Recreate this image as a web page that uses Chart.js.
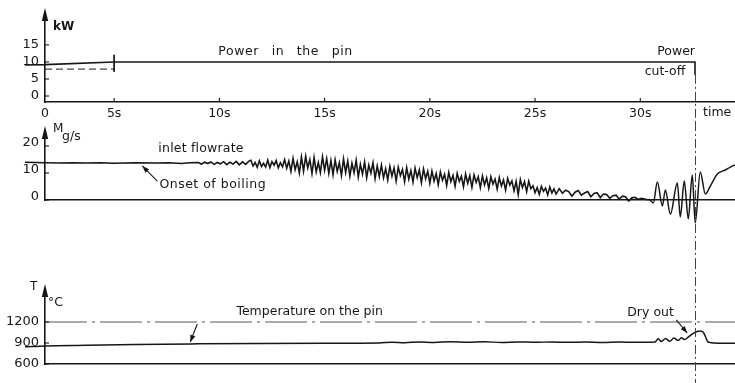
<!DOCTYPE html>
<html><head><meta charset="utf-8">
<script src="https://cdn.jsdelivr.net/npm/chart.js@4/dist/chart.umd.min.js"></script>
<style>
html,body{margin:0;padding:0;background:#fff;width:735px;height:383px;overflow:hidden;position:relative;}
canvas{position:absolute;left:0;}
</style></head><body>
<canvas id="cPow" width="735" height="122" style="top:0px"></canvas>
<canvas id="cFlow" width="735" height="138" style="top:122px"></canvas>
<canvas id="cTemp" width="735" height="123" style="top:260px"></canvas>
<script>
// ---------------- data ----------------
const timeTicks  = [0, 5, 10, 15, 20, 25, 30];
const powerTicks = [0, 5, 10, 15];
const flowTicks  = [0, 10, 20];
const tempTicks  = [600, 900, 1200];
const cutoffTime = 32.6;

const powerTime = [-1.45, 0, 5, 32.6, 32.6];
const powerKW   = [9.1, 9.2, 10.0, 10.0, 6.2];
const nominalTime = [0, 5];
const nominalKW   = [7.9, 7.9];
const markTime = [5, 5];
const markKW   = [12.1, 7.1];

const flowTime = [
 -1.45, 0, 1, 2, 3, 4, 5, 6, 7, 7.6, 8.2, 8.6,
 9.00, 9.15, 9.30, 9.45, 9.60, 9.75, 9.90, 10.05, 10.20, 10.35, 10.50, 10.65, 10.80, 10.95, 11.10, 11.25, 11.40,
 11.5, 11.6, 11.7, 11.8, 11.9, 12.0, 12.1, 12.2, 12.3, 12.4, 12.5, 12.6, 12.7, 12.8, 12.9, 13.0, 13.1, 13.2, 13.3,
 13.4, 13.5, 13.6, 13.7, 13.8, 13.9, 14.0, 14.1, 14.2, 14.3, 14.4, 14.5, 14.6, 14.7, 14.8, 14.9, 15.0, 15.1, 15.2, 15.3,
 15.4, 15.5, 15.6, 15.7, 15.8, 15.9, 16.0, 16.1, 16.2, 16.3, 16.4, 16.5, 16.6, 16.7, 16.8, 16.9, 17.0, 17.1, 17.2, 17.3, 17.4, 17.5, 17.6,
 17.7, 17.8, 17.9, 18.0, 18.1, 18.2, 18.3, 18.4, 18.5, 18.6, 18.7, 18.8, 18.9, 19.0, 19.1, 19.2, 19.3, 19.4, 19.5, 19.6, 19.7, 19.8, 19.9, 20.0,
 20.1, 20.2, 20.3, 20.4, 20.5, 20.6, 20.7, 20.8, 20.9, 21.0, 21.1, 21.2, 21.3, 21.4, 21.5, 21.6, 21.7, 21.8, 21.9, 22.0, 22.1, 22.2, 22.3, 22.4,
 22.5, 22.6, 22.7, 22.8, 22.9, 23.0, 23.1, 23.2, 23.3, 23.4, 23.5, 23.6, 23.7, 23.8, 23.9, 24.0, 24.1, 24.2, 24.3, 24.4, 24.5, 24.6, 24.7, 24.8,
 24.9, 25.0, 25.1, 25.2, 25.3, 25.4, 25.5, 25.6, 25.7, 25.8, 25.9, 26.0,
 26.15, 26.30, 26.45, 26.60, 26.75, 26.90, 27.05, 27.20, 27.35, 27.50, 27.65, 27.80, 27.95, 28.10, 28.25,
 28.40, 28.55, 28.70, 28.85, 29.00, 29.15, 29.30, 29.45, 29.60, 29.75, 29.90, 30.05, 30.20, 30.35, 30.45,
 30.62, 30.81, 31.05, 31.19, 31.43, 31.76, 31.90, 32.09, 32.28, 32.47, 32.61, 32.85,
 33.09, 33.33, 33.66, 34.04, 34.28, 34.50
];
const flowRate = [
 14.0, 13.8, 13.7, 13.8, 13.7, 13.8, 13.6, 13.8, 13.7, 13.8, 13.5, 13.8,
 13.9, 13.3, 14.0, 13.5, 14.1, 13.2, 13.9, 13.4, 14.2, 13.1, 14.0, 13.3, 14.3, 13.0, 14.1, 13.2, 14.4,
 14.7, 12.6, 13.9, 12.1, 14.5, 12.4, 13.6, 12.2, 14.8, 12.0, 14.2, 12.9, 14.6, 11.9, 13.8, 12.3, 15.0, 11.8, 14.4,
 10.6, 15.4, 11.2, 14.1, 10.0, 15.9, 10.7, 16.2, 11.9, 15.0, 9.8, 15.7, 10.4, 13.9, 10.2, 16.0, 11.0, 15.3, 9.9, 14.6,
 9.4, 14.9, 10.6, 13.8, 9.1, 15.2, 10.2, 14.4, 8.8, 13.6, 10.1, 14.7, 8.5, 13.2, 9.6, 14.1, 8.3, 12.9, 9.9, 13.8, 7.9, 12.6, 8.7,
 12.9, 8.2, 11.6, 7.4, 12.5, 8.8, 11.9, 7.0, 12.2, 9.0, 11.3, 6.8, 12.0, 7.7, 10.9, 6.6, 11.8, 8.3, 11.1, 6.4, 11.5, 7.9, 10.6, 6.2,
 10.7, 7.0, 9.8, 5.7, 10.4, 7.3, 9.5, 5.4, 10.2, 6.8, 9.1, 5.1, 9.9, 6.9, 8.8, 4.9, 9.6, 6.2, 9.0, 4.7, 9.3, 6.5, 8.6, 4.6,
 8.9, 5.6, 8.2, 4.3, 8.6, 5.9, 7.7, 4.0, 8.3, 5.2, 7.4, 3.7, 8.0, 5.5, 7.1, 3.4, 6.9, 2.0, 7.6, 4.6, 6.8, 3.1, 7.0, 4.2,
 5.3, 2.7, 4.6, 2.1, 5.0, 3.2, 4.4, 1.9, 4.8, 2.6, 4.1, 2.2,
 4.2, 2.5, 3.6, 3.1, 1.4, 2.9, 3.5, 1.8, 2.6, 3.1, 1.2, 2.4, 2.7, 0.9, 2.2,
 2.0, 0.6, 1.6, 1.8, 0.3, 1.4, 1.2, -0.4, 0.8, 1.0, 0.2, 0.6, 0.4, 0.1, 0.2,
 -1.1, 6.7, -2.2, 3.7, -5.2, 6.3, -6.3, 7.0, -7.0, 9.3, -8.5, 10.4,
 2.2, 5.2, 9.6, 11.1, 12.2, 13.0
];
// the noisy trace is drawn straight; the large oscillations near dry-out are smooth
const flowSmoothFrom = 30.45;

const tempTime = [-1.45, 0, 3, 6, 9, 12, 15, 17.6, 18.2, 18.8, 19.5, 20.2, 21.0, 21.8, 22.6, 23.4, 24.2,
 25.0, 25.8, 26.6, 27.4, 28.2, 29.0, 29.8, 30.5, 30.7, 30.85, 31.0, 31.2, 31.4, 31.6, 31.8, 31.95,
 32.1, 32.3, 32.5, 32.7, 32.85, 33.0, 33.1, 33.2, 33.35, 34.5];
const tempC = [845, 858, 868, 880, 888, 893, 896, 900, 912, 905, 915, 908, 918, 910, 917, 908, 916,
 910, 915, 909, 914, 908, 913, 909, 912, 914, 960, 920, 965, 925, 970, 935, 975,
 950, 990, 1035, 1065, 1072, 1050, 990, 920, 905, 895];
const refTempTime = [0, 34.5];
const refTempC = [1200, 1200];

// ---------------- setup ----------------
const INK = '#161616';
const FONT = '"DejaVu Sans", sans-serif';
Chart.defaults.font.family = FONT;
Chart.defaults.font.size = 12.5;
Chart.defaults.color = INK;

// time axis: the first 5 s are drawn compressed, as in the original record
const KNEE = 5, SQUEEZE = 0.657;
class WarpedTimeScale extends Chart.LinearScale {
  warp(v) { return v >= KNEE ? v : KNEE - (KNEE - v) * SQUEEZE; }
  unwarp(w) { return w >= KNEE ? w : KNEE - (KNEE - w) / SQUEEZE; }
  getPixelForValue(value) {
    if (value === null || value === undefined || isNaN(value)) return NaN;
    const a = this.warp(this.min), b = this.warp(this.max);
    return this.getPixelForDecimal((this.warp(value) - a) / (b - a));
  }
  getValueForPixel(pixel) {
    const a = this.warp(this.min), b = this.warp(this.max);
    return this.unwarp(a + this.getDecimalForPixel(pixel) * (b - a));
  }
}
WarpedTimeScale.id = 'warpedTime';
WarpedTimeScale.defaults = Chart.LinearScale.defaults;
Chart.register(WarpedTimeScale);

const pts = (xs, ys) => xs.map((x, i) => ({x, y: ys[i]}));

function timeScale(showLabels, height) {
  return {
    type: 'warpedTime', min: 0, max: 34.5, position: 'bottom',
    grid: {display: false, drawTicks: false, tickLength: 0},
    border: {display: true, color: INK, width: 1.6},
    ticks: {display: showLabels, padding: 4, autoSkip: false, maxRotation: 0,
            font: {size: 12.5}, callback: v => v === 0 ? '0' : v + 's'},
    afterBuildTicks: s => { s.ticks = timeTicks.map(v => ({value: v})); },
    afterFit: s => { s.height = height; }
  };
}
function valueScale(min, max, ticks, labelOffset = 0) {
  return {
    type: 'linear', min, max, position: 'left',
    grid: {display: false, drawTicks: false, tickLength: 0},
    border: {display: true, color: INK, width: 1.6},
    ticks: {padding: 6, autoSkip: false, font: {size: 13}, labelOffset, callback: v => String(v)},
    afterBuildTicks: s => { s.ticks = ticks.map(v => ({value: v})); },
    afterFit: s => { s.width = 45; }
  };
}

function P(chart, t, v) { return [chart.scales.x.getPixelForValue(t), chart.scales.y.getPixelForValue(v)]; }
function txt(ctx, s, x, y, o = {}) {
  ctx.font = `${o.weight || 'normal'} ${o.size || 12.5}px ${FONT}`;
  ctx.fillStyle = INK;
  ctx.textAlign = o.align || 'left';
  ctx.textBaseline = 'middle';
  ctx.letterSpacing = (o.spacing || 0) + 'px';
  ctx.wordSpacing = (o.words || 0) + 'px';
  ctx.fillText(s, x, y);
  ctx.letterSpacing = '0px';
  ctx.wordSpacing = '0px';
}
function head(ctx, x0, y0, x1, y1, len, half) {
  const a = Math.atan2(y1 - y0, x1 - x0);
  ctx.beginPath();
  ctx.moveTo(x1, y1);
  ctx.lineTo(x1 - len * Math.cos(a) + half * Math.sin(a), y1 - len * Math.sin(a) - half * Math.cos(a));
  ctx.lineTo(x1 - len * Math.cos(a) - half * Math.sin(a), y1 - len * Math.sin(a) + half * Math.cos(a));
  ctx.closePath(); ctx.fillStyle = INK; ctx.fill();
}
function arrow(ctx, a, b) {
  ctx.strokeStyle = INK; ctx.lineWidth = 1.1;
  ctx.beginPath(); ctx.moveTo(a[0], a[1]); ctx.lineTo(b[0], b[1]); ctx.stroke();
  head(ctx, a[0], a[1], b[0], b[1], 7, 2.6);
}
function axisDecor(chart, xTicks) {
  const ctx = chart.ctx, ar = chart.chartArea;
  head(ctx, ar.left, ar.top + 2, ar.left, ar.top - 10, 13, 3.2);
  ctx.strokeStyle = INK; ctx.lineWidth = 1.1;
  chart.scales.y.ticks.forEach(t => {
    const y = chart.scales.y.getPixelForValue(t.value);
    ctx.beginPath(); ctx.moveTo(ar.left, y); ctx.lineTo(ar.left + 4, y); ctx.stroke();
  });
  if (xTicks) chart.scales.x.ticks.forEach(t => {
    if (t.value === 0) return;
    const x = chart.scales.x.getPixelForValue(t.value);
    ctx.beginPath(); ctx.moveTo(x, ar.bottom); ctx.lineTo(x, ar.bottom - 4); ctx.stroke();
  });
}
function cutoffLine(chart, yFrom) {
  const ctx = chart.ctx, x = Math.round(chart.scales.x.getPixelForValue(cutoffTime)) + 0.5;
  ctx.save();
  ctx.strokeStyle = '#444'; ctx.lineWidth = 1; ctx.setLineDash([9, 3, 2, 3]);
  ctx.beginPath(); ctx.moveTo(x, yFrom); ctx.lineTo(x, chart.height); ctx.stroke();
  ctx.restore();
}
const overlay = fn => ({id: 'overlay', afterDatasetsDraw(chart) { chart.ctx.save(); fn(chart, chart.ctx); chart.ctx.restore(); }});

const base = (padTop) => ({
  responsive: false, animation: false, devicePixelRatio: 1,
  layout: {padding: {top: padTop, left: 0, right: 0, bottom: 0}},
  plugins: {legend: {display: false}, tooltip: {enabled: false}},
  elements: {point: {radius: 0}}
});
const line = (data, o = {}) => Object.assign({data, borderColor: INK, borderWidth: 1.5, pointRadius: 0, clip: false, fill: false}, o);

// ---------------- power ----------------
new Chart(document.getElementById('cPow'), {
  type: 'line',
  data: {datasets: [
    line(pts(powerTime, powerKW), {borderWidth: 1.6}),
    line(pts(nominalTime, nominalKW), {borderWidth: 1, borderDash: [7, 4]}),
    line(pts(markTime, markKW), {borderWidth: 1})
  ]},
  options: Object.assign(base(18), {
    scales: {x: timeScale(true, 20), y: valueScale(-1.76, 22.9, powerTicks)}
  }),
  plugins: [overlay((c, ctx) => {
    axisDecor(c, true);
    cutoffLine(c, c.scales.y.getPixelForValue(powerKW[powerKW.length - 1]));
    const ar = c.chartArea;
    txt(ctx, 'kW', ar.left + 8, 27, {weight: 'bold', size: 12});
    let p = P(c, 9.95, 12.9); txt(ctx, 'Power in the pin', p[0], p[1], {spacing: 0.6, words: 8});
    p = P(c, cutoffTime, 12.9); txt(ctx, 'Power', p[0], p[1], {align: 'right'});
    p = P(c, 32.14, 7.1); txt(ctx, 'cut-off', p[0], p[1], {align: 'right'});
    txt(ctx, 'time', c.scales.x.getPixelForValue(cutoffTime) + 8, ar.bottom + 11);
  })]
});

// ---------------- flowrate ----------------
const flowPts = pts(flowTime, flowRate);
new Chart(document.getElementById('cFlow'), {
  type: 'line',
  data: {datasets: [
    line(flowPts.filter(p => p.x <= flowSmoothFrom), {borderWidth: 1.6, tension: 0}),
    line(flowPts.filter(p => p.x >= flowSmoothFrom), {borderWidth: 1.5, cubicInterpolationMode: 'monotone'})
  ]},
  options: Object.assign(base(14), {
    scales: {x: timeScale(false, 60), y: valueScale(0, 23.7, flowTicks, -3)}
  }),
  plugins: [overlay((c, ctx) => {
    axisDecor(c, false);
    cutoffLine(c, 0);
    const ar = c.chartArea;
    txt(ctx, 'M', ar.left + 8, 7, {size: 12});
    txt(ctx, 'g/s', ar.left + 17, 15, {size: 12.5});
    let p = P(c, 7.1, 18.9); txt(ctx, 'inlet flowrate', p[0], p[1], {spacing: 0.2});
    p = P(c, 7.15, 5.6); txt(ctx, 'Onset of boiling', p[0], p[1], {spacing: 0.5});
    arrow(ctx, P(c, 7.05, 7.0), P(c, 6.34, 12.6));
  })]
});

// ---------------- temperature ----------------
new Chart(document.getElementById('cTemp'), {
  type: 'line',
  data: {datasets: [
    line(pts(tempTime, tempC), {borderWidth: 1.5, cubicInterpolationMode: 'monotone'}),
    line(pts(refTempTime, refTempC), {borderWidth: 1, borderColor: '#555', borderDash: [42, 5, 3, 5]})
  ]},
  options: Object.assign(base(34), {
    scales: {x: timeScale(false, 19), y: valueScale(600, 1600, tempTicks)}
  }),
  plugins: [overlay((c, ctx) => {
    axisDecor(c, false);
    cutoffLine(c, 0);
    const ar = c.chartArea;
    txt(ctx, 'T', ar.left - 15, 27, {size: 12});
    txt(ctx, '°C', ar.left + 3, 43, {size: 12.5});
    let p = P(c, 10.81, 1343); txt(ctx, 'Temperature on the pin', p[0], p[1]);
    arrow(ctx, P(c, 8.95, 1171), P(c, 8.62, 914));
    p = P(c, 29.38, 1329); txt(ctx, 'Dry out', p[0], p[1]);
    arrow(ctx, P(c, 31.71, 1229), P(c, 32.23, 1043));
  })]
});
</script>
</body></html>
